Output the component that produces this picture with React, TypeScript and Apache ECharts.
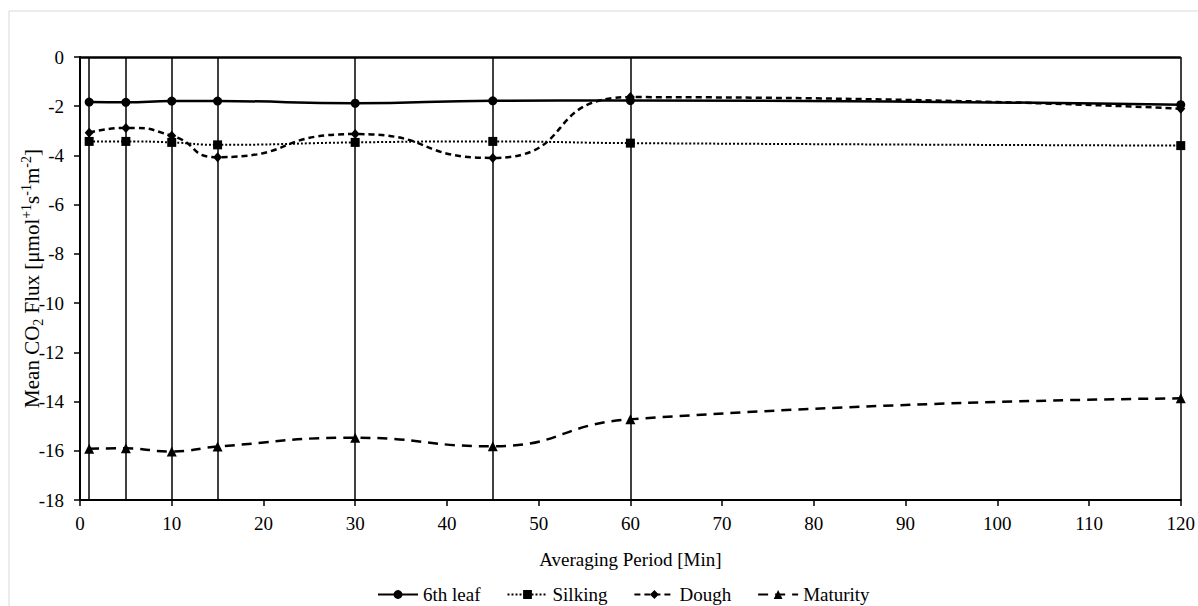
import React, { useEffect, useRef } from "react";
import * as echarts from "echarts";

const periods = [1, 5, 10, 15, 30, 45, 60, 120];
const leaf6 = [-1.83, -1.84, -1.79, -1.79, -1.88, -1.78, -1.77, -1.94];
const silking = [-3.43, -3.43, -3.47, -3.57, -3.47, -3.43, -3.5, -3.6];
const dough = [-3.08, -2.88, -3.2, -4.07, -3.13, -4.1, -1.63, -2.1];
const maturity = [-15.92, -15.9, -16.03, -15.83, -15.47, -15.82, -14.72, -13.87];

const xTicks = { min: 0, max: 120, interval: 10 };
const yTicks = { min: -18, max: 0, interval: 2 };

const FONT = "Liberation Serif";
const FS = 19;

const pairs = (ys: number[]) => periods.map((x, i) => [x, ys[i]]);

export default function App() {
  const ref = useRef<HTMLDivElement>(null);
  useEffect(() => {
    document.body.style.margin = "0";
    const chart = echarts.init(ref.current!, undefined, { renderer: "svg" });
    const base = {
      type: "line" as const,
      symbolKeepAspect: true,
      itemStyle: { color: "#000" },
    };
    chart.setOption({
      animation: false,
      backgroundColor: "#fff",
      textStyle: { fontFamily: FONT, color: "#000" },
      graphic: [
        {
          type: "rect",
          shape: { x: 9, y: 11, width: 1400, height: 800 },
          style: { fill: "none", stroke: "#d9d9d9", lineWidth: 1 },
          silent: true,
        },
      ],
      grid: { left: 80, right: 15, top: 57, bottom: 106 },
      legend: {
        top: 580,
        left: 372,
        itemWidth: 40,
        itemHeight: 11,
        itemGap: 26,
        textStyle: { fontFamily: FONT, fontSize: FS, color: "#000" },
        data: ["6th leaf", "Silking", "Dough", "Maturity"],
      },
      xAxis: {
        type: "value",
        min: xTicks.min,
        max: xTicks.max,
        interval: xTicks.interval,
        name: "Averaging Period [Min]",
        nameLocation: "middle",
        nameGap: 50,
        nameTextStyle: { fontFamily: FONT, fontSize: FS, color: "#000" },
        splitLine: { show: false },
        axisLine: { onZero: false, lineStyle: { color: "#000", width: 2 } },
        axisTick: { show: true, length: 6, lineStyle: { color: "#000", width: 1.5 } },
        axisLabel: { fontFamily: FONT, fontSize: FS, color: "#000", margin: 14 },
      },
      yAxis: {
        type: "value",
        min: yTicks.min,
        max: yTicks.max,
        interval: yTicks.interval,
        name: "Mean CO{sub|2} Flux [μmol{sup|+1}s{sup|-1}m{sup|-2}]",
        nameLocation: "middle",
        nameRotate: 90,
        nameGap: 35,
        nameMoveOverlap: false,
        nameTextStyle: {
          fontFamily: FONT,
          fontSize: 21,
          color: "#000",
          lineHeight: 26,
          rich: {
            sup: { fontFamily: FONT, fontSize: 14, color: "#000", lineHeight: 15, verticalAlign: "top" },
            sub: { fontFamily: FONT, fontSize: 14, color: "#000", lineHeight: 11, verticalAlign: "bottom" },
          },
        },
        splitLine: { show: false },
        axisLine: { onZero: false, lineStyle: { color: "#000", width: 2 } },
        axisTick: { show: true, length: 6, lineStyle: { color: "#000", width: 1.5 } },
        axisLabel: { fontFamily: FONT, fontSize: FS, color: "#000", margin: 16 },
      },
      series: [
        {
          ...base,
          name: "6th leaf",
          data: pairs(leaf6),
          smooth: 0.5,
          symbol: "circle",
          symbolSize: 9,
          lineStyle: { color: "#000", width: 2.5, type: "solid" },
          z: 4,
          markLine: {
            silent: true,
            symbol: ["none", "none"],
            label: { show: false },
            lineStyle: { color: "#000", width: 1.5, type: "solid" },
            data: [
              ...periods.map((x) => ({ xAxis: x })),
              { yAxis: yTicks.max, lineStyle: { color: "#000", width: 2.5, type: "solid" } },
            ],
          },
        },
        {
          ...base,
          name: "Silking",
          data: pairs(silking),
          smooth: 0.5,
          symbol: "rect",
          symbolSize: 9,
          lineStyle: { color: "#000", width: 2, type: [2, 2] },
          z: 3,
        },
        {
          ...base,
          name: "Dough",
          data: pairs(dough),
          smooth: 0.6,
          symbol: "diamond",
          symbolSize: [9, 10],
          lineStyle: { color: "#000", width: 2.5, type: [6, 4] },
          z: 3,
        },
        {
          ...base,
          name: "Maturity",
          data: pairs(maturity),
          smooth: 0.5,
          symbol: "triangle",
          symbolSize: [10, 10],
          lineStyle: { color: "#000", width: 2.5, type: [10, 7] },
          z: 3,
        },
      ],
    });
    return () => chart.dispose();
  }, []);
  return <div ref={ref} style={{ width: 1198, height: 606 }} />;
}
